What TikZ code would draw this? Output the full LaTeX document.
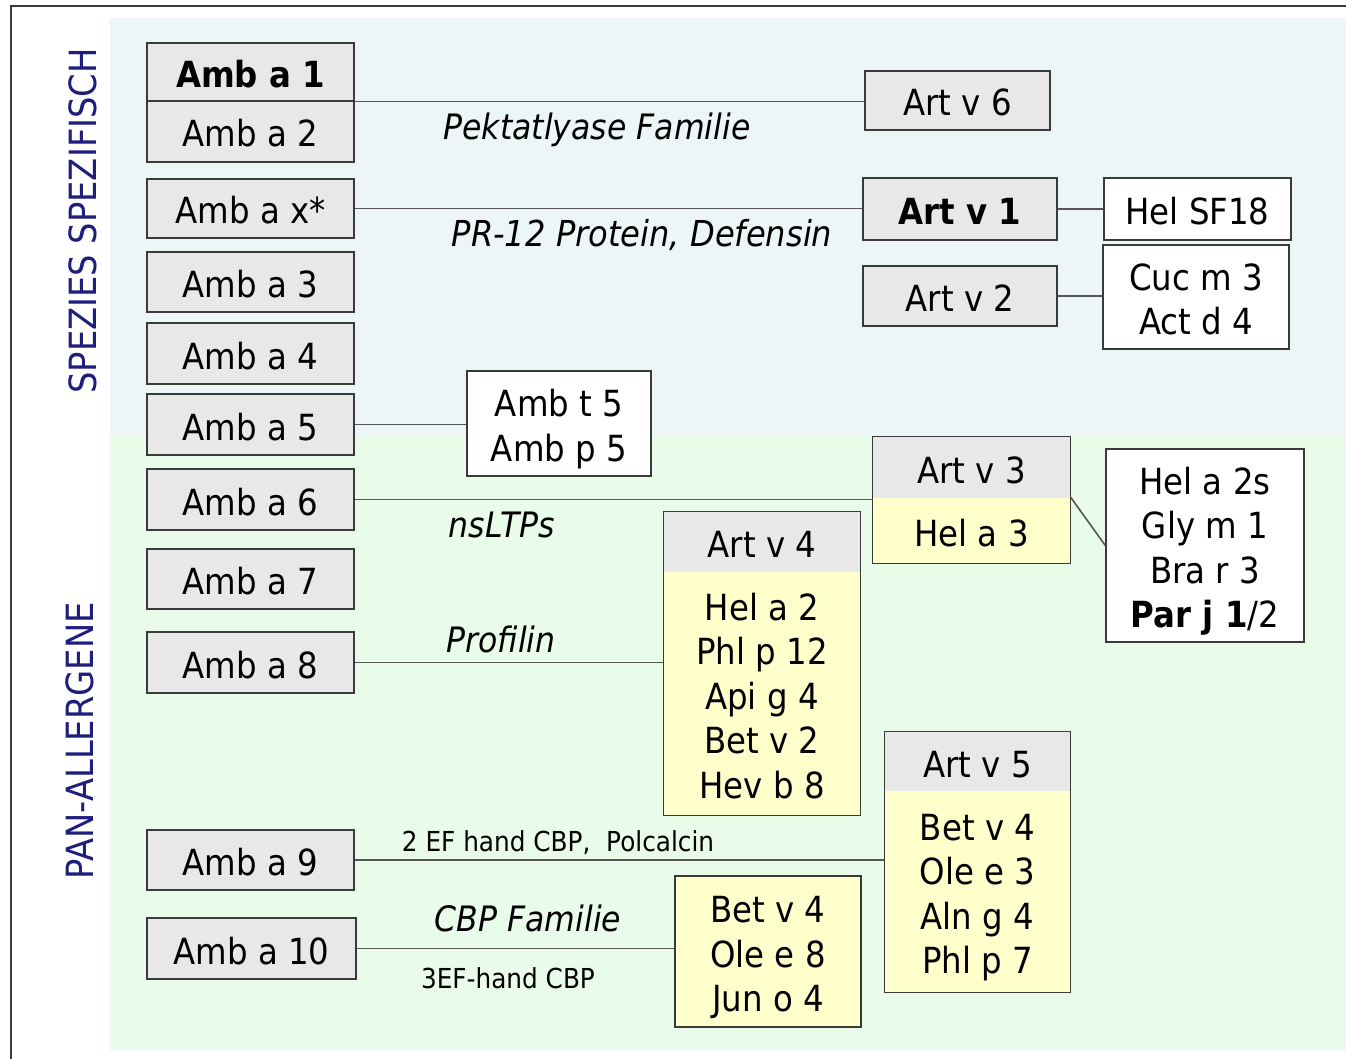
\documentclass[tikz,border=0pt]{standalone}
\usepackage{fontspec}
\setmainfont{DejaVu Sans}[FakeStretch=0.9]
\definecolor{boxline}{HTML}{3A3A3A}
\definecolor{boxgray}{HTML}{E8E8E8}
\definecolor{boxyellow}{HTML}{FFFFCC}
\definecolor{bandblue}{HTML}{EDF6F7}
\definecolor{bandgreen}{HTML}{E9FCE9}
\definecolor{linkgray}{HTML}{555555}
\definecolor{sidenavy}{HTML}{1E1E7C}
% fixed ascent/descent for the first and last text line of every box
\newcommand{\boxtopstrut}{\rule{0pt}{40pt}}
\newcommand{\boxbotstrut}{\rule[-9pt]{0pt}{9pt}}
\begin{document}
\begin{tikzpicture}[x=1pt,y=-1pt,
  allergen/.style={draw=boxline, line width=1.4pt, fill=boxgray, inner sep=0pt,
    align=center, font=\fontsize{36}{44.5}\selectfont,
    execute at begin node=\boxtopstrut, execute at end node=\boxbotstrut},
  whitebox/.style={allergen, fill=white},
  yellowbox/.style={allergen, fill=boxyellow},
  part/.style={allergen, draw=none},
  link/.style={draw=linkgray, line width=1.6pt},
  family/.style={font=\fontsize{35}{40}\selectfont\itshape, inner sep=0pt},
  note/.style={font=\fontsize{27.5}{32}\selectfont, inner sep=0pt},
  side/.style={font=\fontsize{37.5}{40}\selectfont, text=sidenavy, rotate=90, inner sep=0pt}]
\useasboundingbox (0,0) rectangle (1346,1059);

% background bands and frame
\fill[bandblue] (110,18) rectangle (1346,436);
\fill[bandgreen] (110,436) rectangle (1346,1050);
\draw[boxline, line width=1.4pt] (11,1059) -- (11,6) -- (1346,6);

% side captions
\node[side] (spec) at (83,221) {SPEZIES SPEZIFISCH};
\node[side] (pan) at (80,741) {PAN-ALLERGENE};

% ragweed column
\node[allergen, minimum width=207, minimum height=58] (a1) at (250.5,72) {\bfseries Amb a 1};
\node[allergen, minimum width=207, minimum height=61] (a2) at (250.5,131.5) {Amb a 2};
\node[allergen, minimum width=207, minimum height=59] (ax) at (250.5,208.5) {Amb a x*};
\node[allergen, minimum width=207, minimum height=60] (a3) at (250.5,282) {Amb a 3};
\node[allergen, minimum width=207, minimum height=61] (a4) at (250.5,353.5) {Amb a 4};
\node[allergen, minimum width=207, minimum height=61] (a5) at (250.5,424.5) {Amb a 5};
\node[allergen, minimum width=207, minimum height=61] (a6) at (250.5,499.5) {Amb a 6};
\node[allergen, minimum width=207, minimum height=60] (a7) at (250.5,579) {Amb a 7};
\node[allergen, minimum width=207, minimum height=61] (a8) at (250.5,662.5) {Amb a 8};
\node[allergen, minimum width=207, minimum height=60] (a9) at (250.5,860) {Amb a 9};
\node[allergen, minimum width=209, minimum height=61] (a10) at (251.5,948.5) {Amb a 10};

% species specific partners
\node[allergen, minimum width=185, minimum height=59] (v6) at (957.5,100.5) {Art v 6};
\node[allergen, minimum width=194, minimum height=62] (v1) at (960,209) {\bfseries Art v 1};
\node[whitebox, minimum width=187, minimum height=62] (sf18) at (1197.5,209) {Hel SF18};
\node[allergen, minimum width=194, minimum height=60] (v2) at (960,296) {Art v 2};
\node[whitebox, minimum width=186, minimum height=104] (cuc) at (1196,297) {\boxtopstrut Cuc m 3\\Act d 4};
\node[whitebox, minimum width=184, minimum height=105] (t5) at (559,423.5) {\boxtopstrut Amb t 5\\Amb p 5};

% pan-allergen partners
\node[part, fill=boxgray, minimum width=197, minimum height=61] (v3h) at (971.5,467.5) {Art v 3};
\node[part, fill=boxyellow, minimum width=197, minimum height=65] (v3b) at (971.5,530.5) {Hel a 3};
\draw[boxline, line width=1.4pt] (v3h.north west) rectangle (v3b.south east);
\node[whitebox, minimum width=198, minimum height=193] (hel) at (1205,545.5) {\boxtopstrut Hel a 2s\\Gly m 1\\Bra r 3\\{\bfseries Par j 1}/2};

\node[part, fill=boxgray, minimum width=196, minimum height=60] (v4h) at (762,542) {Art v 4};
\node[part, fill=boxyellow, minimum width=196, minimum height=243] (v4b) at (762,693.5) {\boxtopstrut Hel a 2\\Phl p 12\\Api g 4\\Bet v 2\\Hev b 8};
\draw[boxline, line width=1.4pt] (v4h.north west) rectangle (v4b.south east);

\node[part, fill=boxgray, minimum width=185, minimum height=59] (v5h) at (977.5,761.5) {Art v 5};
\node[part, fill=boxyellow, minimum width=185, minimum height=201] (v5b) at (977.5,891.5) {\boxtopstrut Bet v 4\\Ole e 3\\Aln g 4\\Phl p 7};
\draw[boxline, line width=1.4pt] (v5h.north west) rectangle (v5b.south east);

\node[yellowbox, minimum width=186, minimum height=151] (bet) at (768,951.5) {\boxtopstrut Bet v 4\\Ole e 8\\Jun o 4};

% connectors
\draw[link] (a1.south east) -- (a1.south east -| v6.west);
\draw[link] (ax.east) -- (ax.east -| v1.west);
\draw[link] (v1.east) -- (sf18.west);
\draw[link] (v2.east) -- (v2.east -| cuc.west);
\draw[link] (a5.east) -- (a5.east -| t5.west);
\draw[link] (a6.east) -- (a6.east -| v3h.west);
\draw[link] (v3b.north east) -- (hel.west);
\draw[link] (a8.east) -- (a8.east -| v4b.west);
\draw[link] (a9.east) -- (a9.east -| v5b.west);
\draw[link] (a10.east) -- (a10.east -| bet.west);

% family labels
\node[family] (lpek) at (597,130) {Pektatlyase Familie};
\node[family, font=\fontsize{35.7}{40}\selectfont\itshape] (lpr) at (642,235) {PR-12 Protein, Defensin};
\node[family] (lns) at (502,525) {nsLTPs};
\node[family] (lpro) at (501,639) {Profilin};
\node[note] (lef2) at (558,843) {2 EF hand CBP,\ \ Polcalcin};
\node[family] (lcbp) at (528,918) {CBP Familie};
\node[note] (lef3) at (508,978) {3EF-hand CBP};
\end{tikzpicture}
\end{document}
